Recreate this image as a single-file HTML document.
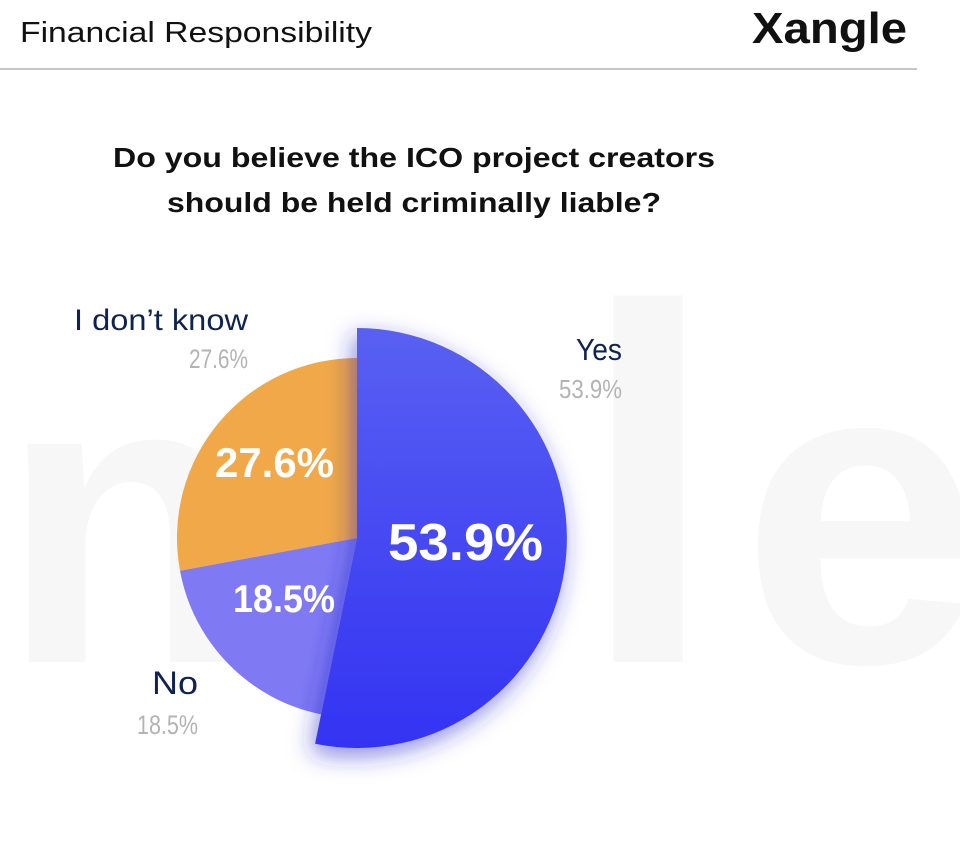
<!DOCTYPE html>
<html>
<head>
<meta charset="utf-8">
<style>
  html, body { margin: 0; padding: 0; background: #ffffff; }
  body { width: 960px; height: 854px; overflow: hidden; }
  svg { display: block; }
  text { font-family: "Liberation Sans", sans-serif; }
</style>
</head>
<body>
<svg width="960" height="854" viewBox="0 0 960 854" xmlns="http://www.w3.org/2000/svg">
  <defs>
    <linearGradient id="gYes" x1="0" y1="0" x2="0" y2="1">
      <stop offset="0" stop-color="#5960f2"/>
      <stop offset="1" stop-color="#3333f2"/>
    </linearGradient>
    <filter id="sh" x="-30%" y="-30%" width="160%" height="160%">
      <feDropShadow dx="-4" dy="8" stdDeviation="12" flood-color="#2626c8" flood-opacity="0.55"/>
    </filter>
  </defs>

  <!-- watermark -->
  <g fill="#f7f7f7" font-weight="bold">
    <text x="0" y="662" font-size="413">n</text>
    <text x="578" y="662" font-size="506">l</text>
    <text x="741" y="662" font-size="435">e</text>
  </g>

  <!-- header -->
  <text x="20" y="42" font-size="29" fill="#111" textLength="352" lengthAdjust="spacingAndGlyphs">Financial Responsibility</text>
  <text x="752" y="43" font-size="44" font-weight="bold" fill="#111" textLength="155" lengthAdjust="spacingAndGlyphs">Xangle</text>
  <line x1="0" y1="69" x2="917" y2="69" stroke="#c6c6c6" stroke-width="2"/>

  <!-- question -->
  <text x="113" y="167" font-size="28" font-weight="bold" fill="#111" textLength="602" lengthAdjust="spacingAndGlyphs">Do you believe the ICO project creators</text>
  <text x="167" y="212" font-size="28" font-weight="bold" fill="#111" textLength="494" lengthAdjust="spacingAndGlyphs">should be held criminally liable?</text>

  <!-- pie -->
  <path d="M357,538 L180.0,570.8 A180,180 0 0,1 357,358 Z" fill="#f0a848"/>
  <path d="M357,538 L321.1,714.4 A180,180 0 0,1 180.0,570.8 Z" fill="#7f7af4"/>
  <path d="M357,538 L357,328 A210,210 0 1,1 315.1,743.8 Z" fill="url(#gYes)" filter="url(#sh)"/>

  <!-- inner labels -->
  <text x="215" y="477" font-size="42" font-weight="bold" fill="#fff" textLength="119" lengthAdjust="spacingAndGlyphs">27.6%</text>
  <text x="233" y="612" font-size="39" font-weight="bold" fill="#fff" textLength="102" lengthAdjust="spacingAndGlyphs">18.5%</text>
  <text x="388" y="560" font-size="52" font-weight="bold" fill="#fff" textLength="155" lengthAdjust="spacingAndGlyphs">53.9%</text>

  <!-- outer labels -->
  <text x="74" y="330" font-size="30" fill="#0f2350" textLength="174" lengthAdjust="spacingAndGlyphs">I don’t know</text>
  <text x="189" y="368" font-size="27" fill="#b3b3b3" textLength="59" lengthAdjust="spacingAndGlyphs">27.6%</text>

  <text x="576" y="360" font-size="31" fill="#0f2350" textLength="46" lengthAdjust="spacingAndGlyphs">Yes</text>
  <text x="559" y="398" font-size="26" fill="#b3b3b3" textLength="63" lengthAdjust="spacingAndGlyphs">53.9%</text>

  <text x="152" y="694" font-size="32" fill="#0f2350" textLength="46" lengthAdjust="spacingAndGlyphs">No</text>
  <text x="137" y="734" font-size="27" fill="#b3b3b3" textLength="61" lengthAdjust="spacingAndGlyphs">18.5%</text>
</svg>
</body>
</html>
